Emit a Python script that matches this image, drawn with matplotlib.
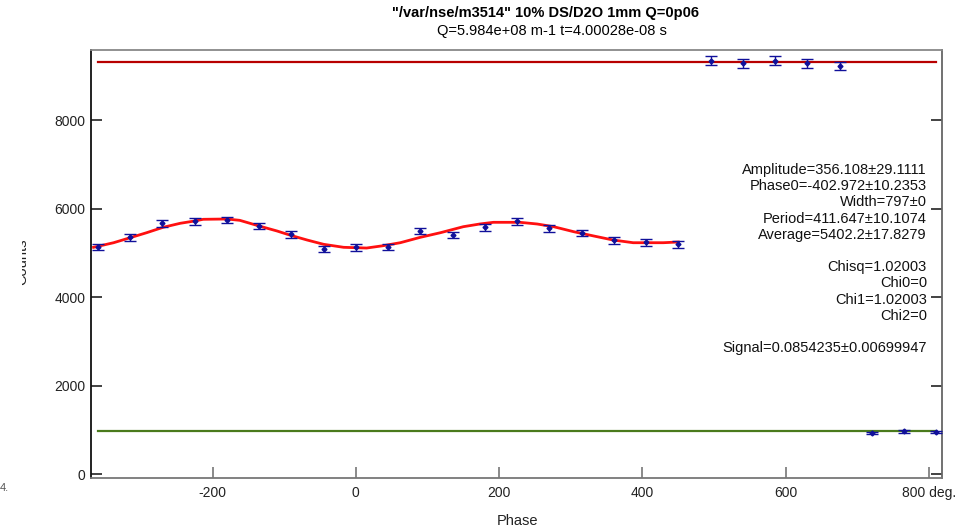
import numpy as np
import matplotlib
matplotlib.use('Agg')
import matplotlib.pyplot as plt
from matplotlib.patches import Rectangle

plt.rcParams['font.family'] = ['Liberation Sans', 'DejaVu Sans']

# measured points (phase in deg, counts, error)
phase_mid = [-360, -315, -270, -225, -180, -135, -90, -45, 0, 45,
             90, 135, 180, 225, 270, 315, 360, 405, 450]
counts_mid = [5135, 5350, 5665, 5710, 5740, 5605, 5415, 5080, 5120, 5130,
              5490, 5400, 5575, 5710, 5555, 5445, 5280, 5235, 5190]
err_mid = [70, 75, 80, 75, 75, 75, 75, 70, 70, 70,
           75, 75, 75, 75, 75, 75, 75, 75, 75]

phase_up = [495, 540, 585, 630, 675]
counts_up = [9340, 9280, 9340, 9280, 9225]
err_up = [100, 100, 100, 100, 95]

phase_down = [720, 765, 810]
counts_down = [920, 962, 955]
err_down = [25, 40, 25]

# fitted curve
fit_x = [-366, -338, -315, -292, -269, -245, -225, -213, -180, -162,
         -135, -110, -91, -68, -45, -17, 15, 38, 62, 90,
         118, 150, 173, 192, 229, 253, 276, 304, 332, 359,
         387, 429, 450]
fit_y = [5123, 5227, 5340, 5453, 5575, 5666, 5718, 5756, 5763, 5733,
         5605, 5492, 5394, 5288, 5191, 5123, 5107, 5159, 5227, 5349,
         5453, 5589, 5650, 5688, 5688, 5650, 5589, 5476, 5379, 5288,
         5227, 5227, 5243]

up_level = 9311
down_level = 972
line_span = [-360, 810]

fit_text = ["Amplitude=356.108\u00b129.1111",
            "Phase0=-402.972\u00b110.2353",
            "Width=797\u00b10",
            "Period=411.647\u00b110.1074",
            "Average=5402.2\u00b117.8279",
            "",
            "Chisq=1.02003",
            "Chi0=0",
            "Chi1=1.02003",
            "Chi2=0",
            "",
            "Signal=0.0854235\u00b10.00699947"]

xticks = [-200, 0, 200, 400, 600, 800]
xticklabels = ['-200', '0', '200', '400', '600', '800 deg.']
yticks = [0, 2000, 4000, 6000, 8000]

W, H = 973, 531
fig = plt.figure(figsize=(W / 100, H / 100), dpi=100)
ax = fig.add_axes([91 / W, 1 - 478 / H, (942 - 91) / W, (478 - 50) / H])

ax.plot(line_span, [up_level, up_level], color='#b80000', lw=1.6, zorder=2)
ax.plot(line_span, [down_level, down_level], color='#4a7a1c', lw=1.6, zorder=2)
ax.plot(fit_x, fit_y, color='#ff1010', lw=2.0, zorder=3)

for px, cy, ey in [(phase_mid, counts_mid, err_mid),
                   (phase_up, counts_up, err_up),
                   (phase_down, counts_down, err_down)]:
    ax.errorbar(px, cy, yerr=ey, fmt='D', ms=2.5, color='#10109a',
                ecolor='#10109a', elinewidth=1.0, capsize=4, capthick=1.0,
                zorder=4)

ax.set_xlim(-369.6, 818)
ax.set_ylim(-90, 9582)

ax.set_xticks(xticks)
ax.set_xticklabels(xticklabels)
ax.set_yticks(yticks)
ax.tick_params(axis='x', direction='in', length=8, width=1.2, color='#777777',
               labelsize=10, pad=6, labelcolor='#222222')
ax.tick_params(axis='y', direction='in', length=8, width=1.2, color='#222222',
               labelsize=10, pad=4, right=True, labelcolor='#222222')

for side, c in [('left', '#111111'), ('bottom', '#777777'),
                ('top', '#888888'), ('right', '#666666')]:
    ax.spines[side].set_color(c)
    ax.spines[side].set_linewidth(1.3)

ax.text((927 - 91) / 851, (478 - 163) / 428, "\n".join(fit_text),
        transform=ax.transAxes, ha='right', va='top', fontsize=10.5,
        linespacing=1.2, color='#111111')

fig.text(545 / W, 1 - 13 / H, '"/var/nse/m3514" 10% DS/D2O 1mm Q=0p06',
         ha='center', va='center', fontsize=10.5, fontweight='bold')
fig.text(552 / W, 1 - 31 / H, 'Q=5.984e+08 m-1 t=4.00028e-08 s',
         ha='center', va='center', fontsize=10.5)
fig.text(518 / W, 1 - 521 / H, 'Phase', ha='center', va='center', fontsize=10.5,
         color='#222222')
fig.text(29 / W, 1 - 262 / H, 'Counts', rotation=90, ha='right', va='center',
         fontsize=10.5, color='#222222')
fig.patches.append(Rectangle((0, 0), 22 / W, 1, transform=fig.transFigure,
                             facecolor='white', edgecolor='none', zorder=10))
fig.text(0, 1 - 488 / H, '4.', ha='left', va='center', fontsize=8,
         color='#555555', zorder=11)

fig.savefig('out.png', dpi=100)
